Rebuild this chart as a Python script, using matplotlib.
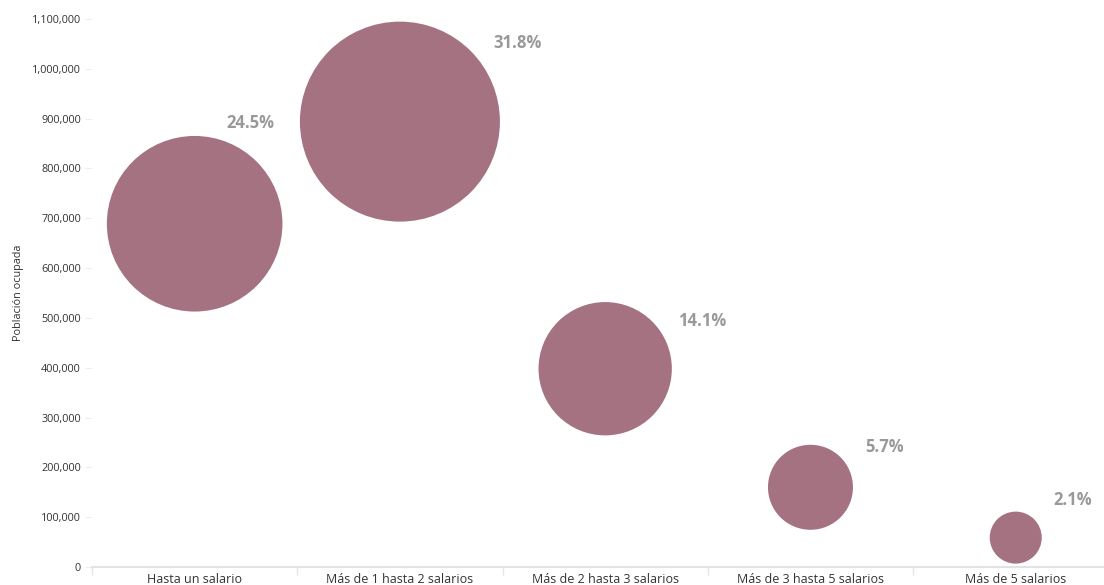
import numpy as np
import matplotlib
matplotlib.use('Agg')
import matplotlib.pyplot as plt
from matplotlib.ticker import FuncFormatter

plt.rcParams['font.family'] = ['Open Sans', 'DejaVu Sans']

# datos
categorias = ['Hasta un salario', 'Más de 1 hasta 2 salarios', 'Más de 2 hasta 3 salarios',
              'Más de 3 hasta 5 salarios', 'Más de 5 salarios']
poblacion = [689000, 894000, 398000, 160000, 59000]
porcentaje = [24.5, 31.8, 14.1, 5.7, 2.1]

color_burbuja = '#a57281'
dpi = 100

fig = plt.figure(figsize=(11.04, 5.85), dpi=dpi)
ax = fig.add_axes([92 / 1104, 18 / 585, 1 - 92 / 1104, (567 - 19) / 585])

# tamaño de burbuja por área (diámetro min 52 px, max 200 px)
z = np.array(porcentaje)
pos = (z - z.min()) / (z.max() - z.min())
diam_px = np.sqrt(52 ** 2 + pos * (200 ** 2 - 52 ** 2))
sizes = (diam_px * 72 / dpi) ** 2

x = np.arange(len(categorias))
ax.scatter(x, poblacion, s=sizes, color=color_burbuja, edgecolors='none', zorder=3)

# etiquetas de porcentaje
offsets = [(56, 101), (118, 79), (97, 48), (74, 40), (57, 38)]
for xi, yi, p, (dx, dy) in zip(x, poblacion, porcentaje, offsets):
    ax.annotate(f'{p}%', (xi, yi), xytext=(dx, dy), textcoords='offset pixels',
                ha='center', va='center', fontsize=12, fontweight='bold', color='#999999')

ax.set_xlim(-0.5, 4.43)
ax.set_ylim(0, 1100000)
ax.set_yticks(np.arange(0, 1100001, 100000))
ax.yaxis.set_major_formatter(FuncFormatter(lambda v, _: f'{int(v):,}'))
ax.set_xticks(x)
ax.set_xticklabels(categorias)
ax.set_xticks(np.arange(-0.5, 4.5, 1), minor=True)

ax.tick_params(axis='x', which='major', length=0, labelsize=9, labelcolor='#333333', pad=4)
ax.tick_params(axis='x', which='minor', length=6, color='#e6e6e6', width=1)
ax.tick_params(axis='y', length=5, color='#eeeeee', labelsize=7.8, labelcolor='#333333', pad=3)

for side in ['top', 'right', 'left']:
    ax.spines[side].set_visible(False)
ax.spines['bottom'].set_color('#dddddd')
ax.spines['bottom'].set_linewidth(1.2)

ax.set_ylabel('Población ocupada', fontsize=7.8, color='#333333')
ax.yaxis.set_label_coords(-68 / (1104 - 92), 0.5)

fig.savefig('out.png', dpi=dpi)
